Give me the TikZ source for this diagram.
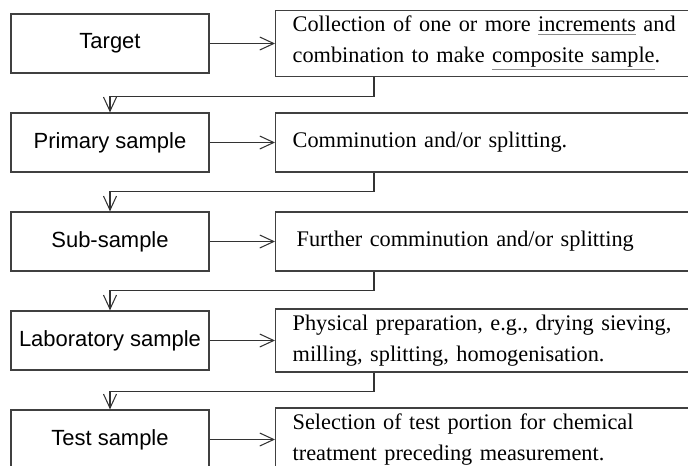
\documentclass[tikz,border=0pt]{standalone}
\usepackage{fontspec}
\setmainfont{Liberation Serif}
\setsansfont{Liberation Sans}
\usetikzlibrary{arrows.meta}

\newcommand{\markterm}[1]{{\color{black!45}\underline{\color{black}#1}}}

\tikzset{
	stagebox/.style={draw=black!75, line width=0.75pt, minimum width=3.96cm, minimum height=1.18cm, inner sep=0pt, font=\sffamily\fontsize{12.5}{14}\selectfont},
	notebox/.style={draw=black!75, line width=0.75pt, anchor=west, minimum height=1.18cm, text width=7.82cm, inner xsep=0.34cm, align=left, font=\fontsize{12.7}{17.5}\selectfont},
	flow/.style={draw=black!80, line width=0.6pt, -{Straight Barb[length=2.8mm,width=2.6mm]}},
}

\begin{document}
\begin{tikzpicture}
	\clip (0,0) rectangle (13.76,-9.32);
	\foreach \i/\y/\stage/\note in {
		1/0.87/Target/{Collection of one or more \markterm{increments} and\\combination to make \markterm{composite sample}.},
		2/2.85/Primary sample/{Comminution and/or splitting.},
		3/4.83/Sub-sample/{\hspace*{0.08cm}Further comminution and/or splitting},
		4/6.81/Laboratory sample/{Physical preparation, e.g., drying sieving,\\milling, splitting, homogenisation.},
		5/8.79/Test sample/{Selection of test portion for chemical\\treatment preceding measurement.}} {
		\node[stagebox] (l\i) at (2.2,-\y) {\stage};
		\node[notebox] (r\i) at (5.5,-\y) {\note};
		\draw[flow] (l\i.east) -- (r\i.west);
	}
	\foreach \i/\j in {1/2, 2/3, 3/4, 4/5} {
		\draw[flow] (r\i.south west) ++(1.98,0) -- ++(0,-0.38) -| (l\j.north);
	}
\end{tikzpicture}
\end{document}
